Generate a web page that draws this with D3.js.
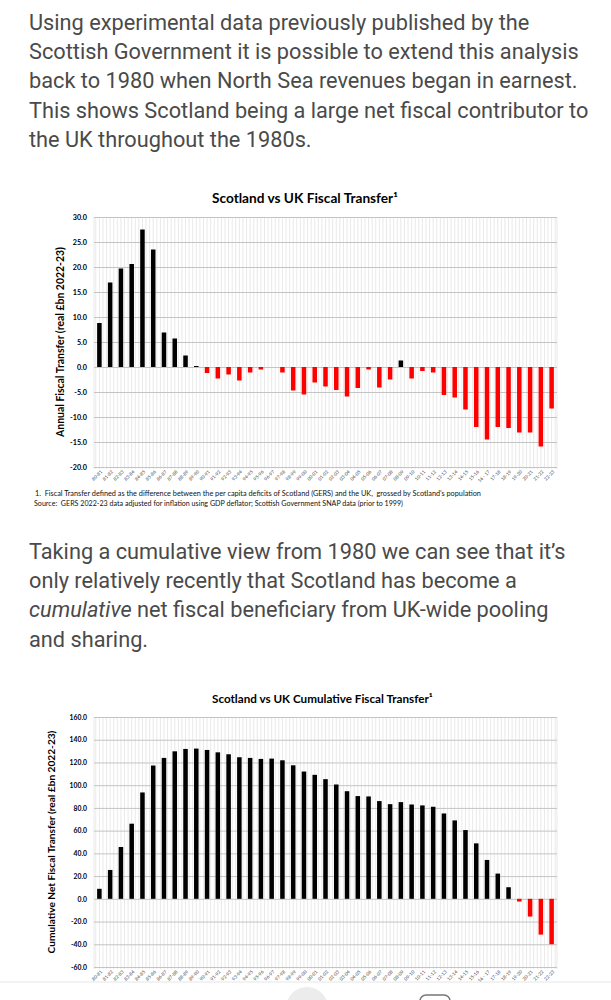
<!DOCTYPE html>
<html>
<head>
<meta charset="utf-8">
<script src="https://cdn.jsdelivr.net/npm/d3@7"></script>
<style>
  html, body { margin: 0; padding: 0; background: #fff; }
  svg { display: block; }
  text { white-space: pre; }
</style>
</head>
<body>
<script>
// ---------------- DATA ----------------
const categories = ["80-81","81-82","82-83","83-84","84-85","85-86","86-87","87-88","88-89","89-90",
  "90-91","91-92","92-93","93-94","94-95","95-96","96-97","97-98","98-99","99-00",
  "00-01","01-02","02-03","03-04","04-05","05-06","06-07","07-08","08-09","09-10",
  "10-11","11-12","12-13","13-14","14-15","15-16","16 - 17","17-18","18-19","19-20",
  "20-21","21-22","22-23"];

const annualTransfer = [8.8,16.9,19.7,20.6,27.5,23.5,6.9,5.7,2.3,0.2,
  -1.2,-2.3,-1.5,-2.7,-1.1,-0.5,0.0,-1.1,-4.7,-5.5,
  -3.1,-3.9,-4.6,-5.9,-4.2,-0.5,-4.1,-2.5,1.3,-2.3,
  -0.8,-1.1,-5.6,-6.1,-8.5,-12.0,-14.5,-12.0,-12.2,-13.1,
  -13.1,-15.9,-8.3];

const cumulativeTransfer = [8.8,25.4,45.6,66.1,93.6,117.3,124.0,129.8,131.9,132.2,
  131.0,128.9,127.2,124.6,124.0,123.1,123.4,121.9,117.5,112.0,
  109.1,105.3,100.6,94.7,90.4,90.1,86.0,83.3,85.1,83.0,
  82.2,81.0,75.1,69.0,60.5,48.8,34.2,22.2,10.2,-2.4,
  -15.6,-31.5,-40.0];

const annualTicks = [30,25,20,15,10,5,0,-5,-10,-15,-20];
const cumulativeTicks = [160,140,120,100,80,60,40,20,0,-20,-40,-60];

const para1 = ["Using experimental data previously published by the",
  "Scottish Government it is possible to extend this analysis",
  "back to 1980 when North Sea revenues began in earnest.",
  "This shows Scotland being a large net fiscal contributor to",
  "the UK throughout the 1980s."];
const para2 = [[["Taking a cumulative view from 1980 we can see that it\u2019s", false]],
  [["only relatively recently that Scotland has become a", false]],
  [["cumulative", true], [" net fiscal beneficiary from UK-wide pooling", false]],
  [["and sharing.", false]]];

const footnote1 = "1.  Fiscal Transfer defined as the difference between the per capita deficits of Scotland (GERS) and the UK,  grossed by Scotland\u2019s population";
const footnote2 = "Source:  GERS 2022-23 data adjusted for inflation using GDP deflator; Scottish Government SNAP data (prior to 1999)";

// ---------------- DRAW ----------------
const svg = d3.select("body").append("svg").attr("width", 611).attr("height", 1000);
svg.append("rect").attr("width", 611).attr("height", 1000).attr("fill", "#fff");

function fit(sel, target) {
  const base = 10;
  sel.attr("font-size", base);
  const len = sel.node().getComputedTextLength();
  sel.attr("font-size", base * target / len);
  return base * target / len;
}

// Paragraph text
const paraFont = "Roboto, 'Open Sans', sans-serif";
const probe = svg.append("text").attr("font-family", paraFont).text(para1[2]);
const pSize = fit(probe, 549);
probe.remove();

para1.forEach((line, i) => {
  svg.append("text").attr("x", 29).attr("y", 30 + i * 29.2)
    .attr("font-family", paraFont).attr("font-size", pSize).attr("fill", "#4a4a4a")
    .text(line);
});
para2.forEach((parts, i) => {
  const t = svg.append("text").attr("x", 29).attr("y", 559 + i * 29.2)
    .attr("font-family", paraFont).attr("font-size", pSize).attr("fill", "#4a4a4a");
  parts.forEach(([s, it]) => {
    t.append("tspan").attr("font-style", it ? "italic" : "normal").text(s);
  });
});

const chartFont = "Lato, 'Open Sans', sans-serif";

function drawChart(cfg) {
  const g = svg.append("g");
  const left = 94, right = 557;
  const x = d3.scaleBand().domain(cfg.cats).range([left, right]).paddingInner(0.58).paddingOuter(0.29);
  const xl = d3.scaleLinear().domain([0, cfg.cats.length]).range(x.range());
  const y = d3.scaleLinear().domain(cfg.domain).range([cfg.bottom, cfg.top]);

  // vertical gridlines
  const vlines = d3.range(0, cfg.cats.length * 3).map(k => k / 3 + 1 / 6);
  vlines.push(0, cfg.cats.length);
  g.append("g").selectAll("line").data(vlines).join("line")
    .attr("x1", d => xl(d)).attr("x2", d => xl(d))
    .attr("y1", cfg.top).attr("y2", cfg.bottom + 2)
    .attr("stroke", "#e3e3e3").attr("stroke-width", 0.8);

  // horizontal gridlines + y labels
  const ya = g.append("g").attr("transform", `translate(${left},0)`)
    .call(d3.axisLeft(y).tickValues(cfg.ticks).tickSize(-(right - left)).tickPadding(7)
      .tickFormat(d => d.toFixed(1)));
  ya.select(".domain").remove();
  ya.selectAll(".tick line").attr("stroke", "#c4c4c4").attr("stroke-width", 1);
  ya.selectAll(".tick text").attr("font-family", chartFont).attr("font-weight", "bold")
    .attr("font-size", cfg.tickSize).attr("fill", "#000");

  // bars
  g.append("g").selectAll("rect").data(cfg.values).join("rect")
    .attr("x", (d, i) => x(cfg.cats[i]))
    .attr("width", x.bandwidth())
    .attr("y", d => y(Math.max(0, d)))
    .attr("height", d => Math.abs(y(d) - y(0)))
    .attr("fill", d => d >= 0 ? "#000" : "#ff0000");

  // x labels
  const xa = g.append("g").attr("transform", `translate(0,${cfg.bottom})`)
    .call(d3.axisBottom(x).tickSize(0).tickPadding(0));
  xa.select(".domain").remove();
  xa.selectAll(".tick text")
    .attr("font-family", chartFont).attr("font-size", 4.6).attr("fill", "#444")
    .attr("text-anchor", "end").attr("x", 0).attr("y", 0).attr("dy", "0.35em")
    .attr("transform", "translate(2,4) rotate(-45)");

  // title
  const t = g.append("text").attr("x", 212).attr("y", cfg.titleY)
    .attr("font-family", chartFont).attr("font-weight", "bold").attr("fill", "#000")
    .text(cfg.title);
  fit(t, cfg.titleW);

  // y title
  const yt = g.append("text")
    .attr("transform", `translate(${cfg.ytX},${cfg.ytY}) rotate(-90)`)
    .attr("text-anchor", "middle").attr("dy", "0.35em")
    .attr("font-family", chartFont).attr("font-weight", "bold").attr("fill", "#000")
    .text(cfg.ytitle);
  fit(yt, cfg.ytLen);
}

drawChart({
  cats: categories, values: annualTransfer, ticks: annualTicks, domain: [-20, 30],
  top: 217, bottom: 467, tickSize: 7.2,
  title: "Scotland vs UK Fiscal Transfer\u00b9", titleY: 203, titleW: 186,
  ytitle: "Annual Fiscal Transfer (real \u00a3bn 2022-23)", ytX: 60, ytY: 342, ytLen: 190
});

drawChart({
  cats: categories, values: cumulativeTransfer, ticks: cumulativeTicks, domain: [-60, 160],
  top: 717, bottom: 967, tickSize: 6.8,
  title: "Scotland vs UK Cumulative Fiscal Transfer\u00b9", titleY: 703, titleW: 221,
  ytitle: "Cumulative Net Fiscal Transfer (real \u00a3bn 2022-23)", ytX: 51, ytY: 842, ytLen: 223
});

// footnotes
const f1 = svg.append("text").attr("x", 35).attr("y", 496).attr("font-family", chartFont)
  .attr("fill", "#111").text(footnote1);
fit(f1, 447);
const f2 = svg.append("text").attr("x", 34).attr("y", 506).attr("font-family", chartFont)
  .attr("fill", "#111").text(footnote2);
fit(f2, 370);

// bottom UI hints
svg.append("line").attr("x1", 0).attr("x2", 611).attr("y1", 982).attr("y2", 982)
  .attr("stroke", "#e6e6e6").attr("stroke-width", 1);
svg.append("circle").attr("cx", 307).attr("cy", 1008).attr("r", 21).attr("fill", "#ececec");
svg.append("rect").attr("x", 420).attr("y", 995).attr("width", 30).attr("height", 20).attr("rx", 6)
  .attr("fill", "none").attr("stroke", "#777").attr("stroke-width", 1.5);
</script>
</body>
</html>
